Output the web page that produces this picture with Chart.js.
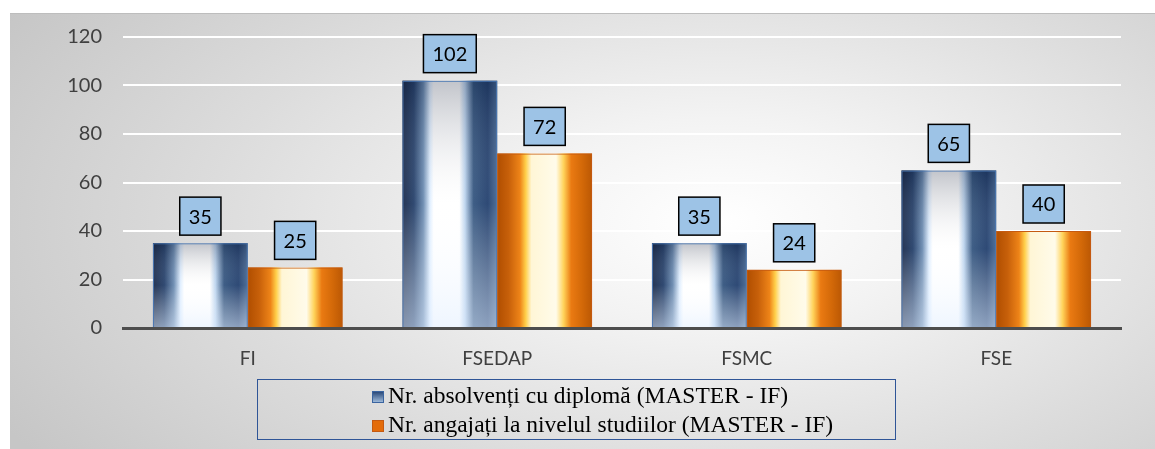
<!DOCTYPE html>
<html>
<head>
<meta charset="utf-8">
<script src="https://cdn.jsdelivr.net/npm/chart.js@4"></script>
<style>
  body { margin: 0; background: #ffffff; overflow: hidden; }
  #wrap {
    position: absolute; left: 10px; top: 13px; width: 1145px; height: 436px;
    background: radial-gradient(ellipse 72% 95% at 62% 48%, #ffffff 0%, #f3f3f3 25%, #dcdcdc 62%, #c6c6c6 100%);
    box-shadow: inset 0 1px 0 #bdbdbd;
  }
  #legend {
    position: absolute; left: 247px; top: 366px; width: 637px; height: 59px;
    border: 1.5px solid #2f5597;
    font-family: "Liberation Serif", "Times New Roman", serif; font-size: 23.5px; color: #000;
  }
  .row { position: absolute; left: 114px; height: 28px; line-height: 28px; white-space: nowrap; }
  .sq { display: inline-block; width: 10px; height: 10px; margin-right: 4px; vertical-align: 0px; }
</style>
</head>
<body>
<div id="wrap">
  <canvas id="myChart"></canvas>
  <div id="legend"></div>
</div>
<script>
const categories = ["FI", "FSEDAP", "FSMC", "FSE"];
const seriesNames = [
  "Nr. absolvenți cu diplomă (MASTER - IF)",
  "Nr. angajați la nivelul studiilor (MASTER - IF)",
];
const absolventi = [35, 102, 35, 65];
const angajati = [25, 72, 24, 40];
const yTicks = [0, 20, 40, 60, 80, 100, 120];

// gradient stops for the "cylinder" look of the bars
const blueStops = [
  [0, "#1a2a4a"], [0.12, "#25406a"], [0.22, "#6a8ab0"], [0.29, "#dfeeff"],
  [0.33, "#ffffff"], [0.6, "#ffffff"], [0.66, "#bcd4ee"], [0.75, "#34557f"],
  [0.9, "#23406e"], [1, "#456894"],
];
const orangeStops = [
  [0, "#b04e00"], [0.12, "#c7600a"], [0.24, "#ee8418"], [0.3, "#ffcf4a"],
  [0.36, "#fff6d6"], [0.62, "#fffbea"], [0.7, "#ffd35a"], [0.78, "#ea7a12"],
  [0.9, "#d26808"], [1, "#bb5804"],
];
const shineStops = [blueStops, orangeStops];

// legend in html
const legendEl = document.getElementById("legend");
seriesNames.forEach((name, i) => {
  const row = document.createElement("div");
  row.className = "row";
  row.style.top = (i === 0 ? 1 : 30) + "px";
  const sq = document.createElement("span");
  sq.className = "sq";
  sq.style.background = i === 0
    ? "linear-gradient(180deg,#2b4a7a,#9cb8d8)"
    : "#e46c0a";
  sq.style.border = i === 0 ? "1px solid #3a64a0" : "1px solid #c55a11";
  row.appendChild(sq);
  row.appendChild(document.createTextNode(name));
  legendEl.appendChild(row);
});

const barShine = {
  id: "barShine",
  beforeDatasetsDraw(chart) {
    const c = chart.ctx;
    chart.data.datasets.forEach((ds, di) => {
      const meta = chart.getDatasetMeta(di);
      meta.data.forEach((bar) => {
        const p = bar.getProps(["x", "y", "base", "width"], true);
        const left = p.x - p.width / 2;
        const g = c.createLinearGradient(left, 0, left + p.width, 0);
        shineStops[di].forEach((s) => g.addColorStop(s[0], s[1]));
        c.save();
        c.fillStyle = g;
        c.fillRect(left, p.y, p.width, p.base - p.y);
        if (di === 0) {
          // lighter towards the bottom
          const v = c.createLinearGradient(0, p.y, 0, p.base);
          v.addColorStop(0, "rgba(10,20,45,0.25)");
          v.addColorStop(0.5, "rgba(255,255,255,0.05)");
          v.addColorStop(1, "rgba(225,238,255,0.55)");
          c.fillStyle = v;
          c.fillRect(left, p.y, p.width, p.base - p.y);
        }
        c.restore();
      });
    });
  },
  afterDatasetsDraw(chart) {
    const c = chart.ctx;
    c.save();
    c.font = "20px Lato";
    c.textAlign = "center";
    c.textBaseline = "middle";
    chart.data.datasets.forEach((ds, di) => {
      const meta = chart.getDatasetMeta(di);
      meta.data.forEach((bar, i) => {
        const txt = String(ds.data[i]);
        const w = c.measureText(txt).width + 18;
        const h = 38;
        const bottom = bar.y - 8;
        c.fillStyle = "#9dc3e6";
        c.fillRect(bar.x - w / 2, bottom - h, w, h);
        c.lineWidth = 1.5;
        c.strokeStyle = "#000";
        c.strokeRect(bar.x - w / 2, bottom - h, w, h);
        c.fillStyle = "#000";
        c.fillText(txt, bar.x, bottom - h / 2 + 1);
      });
    });
    c.restore();
  },
};

const ctx = document.getElementById("myChart");

new Chart(ctx, {
  type: "bar",
  data: {
    labels: categories,
    datasets: [
      {
        label: seriesNames[0],
        data: absolventi,
        backgroundColor: "transparent",
        borderColor: "#4a78b4",
        borderWidth: 1,
        categoryPercentage: 0.76,
        barPercentage: 1.0,
      },
      {
        label: seriesNames[1],
        data: angajati,
        backgroundColor: "transparent",
        borderColor: "#c55a11",
        borderWidth: 1,
        categoryPercentage: 0.76,
        barPercentage: 1.0,
      },
    ],
  },
  options: {
    responsive: true,
    maintainAspectRatio: false,
    animation: false,
    layout: { padding: { top: 24, right: 34, left: 0, bottom: 0 } },
    scales: {
      x: {
        z: 1,
        grid: { display: false, drawTicks: false },
        border: { display: true, color: "#4d4d4d", width: 3 },
        ticks: { color: "#404040", font: { family: "Lato", size: 19 }, padding: 19 },
        afterFit: (scale) => { scale.height = 121; },
      },
      y: {
        min: 0,
        max: 120,
        afterBuildTicks: (scale) => { scale.ticks = yTicks.map((v) => ({ value: v })); },
        grid: { color: "#ffffff", lineWidth: 2, drawTicks: false },
        border: { display: false },
        ticks: { color: "#404040", font: { family: "Lato", size: 20 }, padding: 21 },
        afterFit: (scale) => {
          scale.width = 113;
          scale.paddingTop = 0;
          scale.paddingBottom = 0;
        },
      },
    },
    plugins: {
      legend: { display: false },
      tooltip: { enabled: false },
    },
  },
  plugins: [barShine],
});
</script>
</body>
</html>
